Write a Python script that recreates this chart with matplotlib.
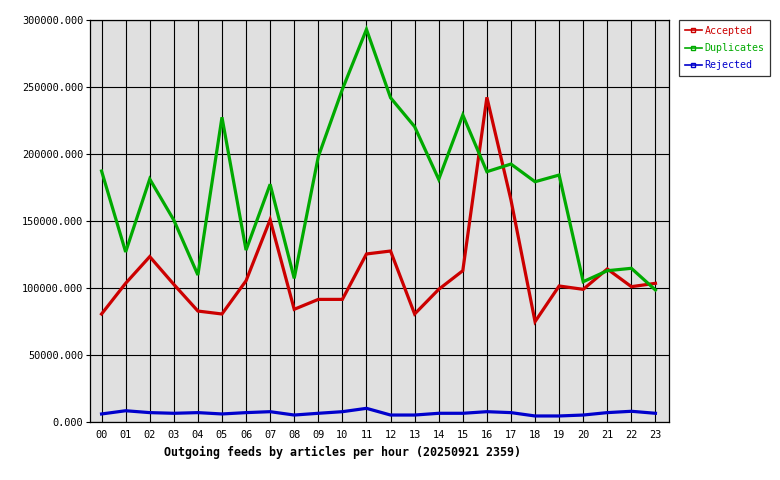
import matplotlib
matplotlib.use("Agg")
import matplotlib.pyplot as plt
from matplotlib.lines import Line2D
import numpy as np

hours = ["%02d" % h for h in range(24)]

accepted = [80600, 103500, 123400, 102700, 82800, 80600, 105400, 151000,
            84100, 91500, 91500, 125400, 127600, 80600, 99000, 112900,
            242300, 165700, 74900, 101500, 99000, 114200, 101000, 103500]
duplicates = [187300, 126900, 181300, 150700, 109700, 227400, 128300, 177400,
              107200, 198000, 248300, 293000, 242000, 220400, 181100, 229100,
              186800, 192500, 179300, 184300, 104700, 112900, 114700, 98500]
rejected = [6000, 8400, 7000, 6500, 7000, 6000, 7000, 7700,
            5200, 6500, 7700, 10200, 5200, 5200, 6500, 6500,
            7700, 7000, 4500, 4500, 5200, 7000, 8000, 6500]

series = [("Accepted", accepted, "#cc0000"),
          ("Duplicates", duplicates, "#00aa00"),
          ("Rejected", rejected, "#0000cc")]

plt.rcParams['font.family'] = ['DejaVu Sans Mono']

fig = plt.figure(figsize=(7.8, 4.8), dpi=100)
ax = fig.add_axes([90/780, 58/480, 578.7/780, 402/480])
ax.set_facecolor("#e0e0e0")
ax.set_axisbelow(True)

x = np.arange(len(hours))
for name, vals, col in series:
  ax.plot(x, vals, color=col, lw=2.3, solid_joinstyle='miter')

ax.set_xlim(-0.48, 23.55)
ax.set_ylim(0, 300000)
ax.set_xticks(x)
ax.set_xticklabels(hours)
yt = np.arange(0, 300001, 50000)
ax.set_yticks(yt)
ax.set_yticklabels(["%.3f" % v for v in yt])
ax.tick_params(axis='x', length=0, pad=6, labelsize=7.4)
ax.tick_params(axis='y', length=3, pad=2, labelsize=7.4)
ax.grid(True, color='black', lw=0.8)
for s in ax.spines.values():
  s.set_color('black')
  s.set_linewidth(0.9)

fig.text(343/780, 1 - 452/480, "Outgoing feeds by articles per hour (20250921 2359)",
         ha='center', va='center', fontsize=8.4, fontweight='bold')

handles = [Line2D([0], [0], color=col, lw=1.2, marker='s', markersize=2.5,
                  markerfacecolor='none', markeredgecolor=col)
           for name, vals, col in series]
leg = fig.legend(handles, [s[0] for s in series], loc='upper left',
                 bbox_to_anchor=(679/780, 1 - 20/480), fontsize=7.2,
                 frameon=True, fancybox=False, edgecolor='black',
                 handlelength=1.7, handletextpad=0.3, borderpad=0.55,
                 labelspacing=0.75, borderaxespad=0, labelcolor='linecolor')
leg.get_frame().set_linewidth(0.9)

fig.savefig("out.png", dpi=100)
